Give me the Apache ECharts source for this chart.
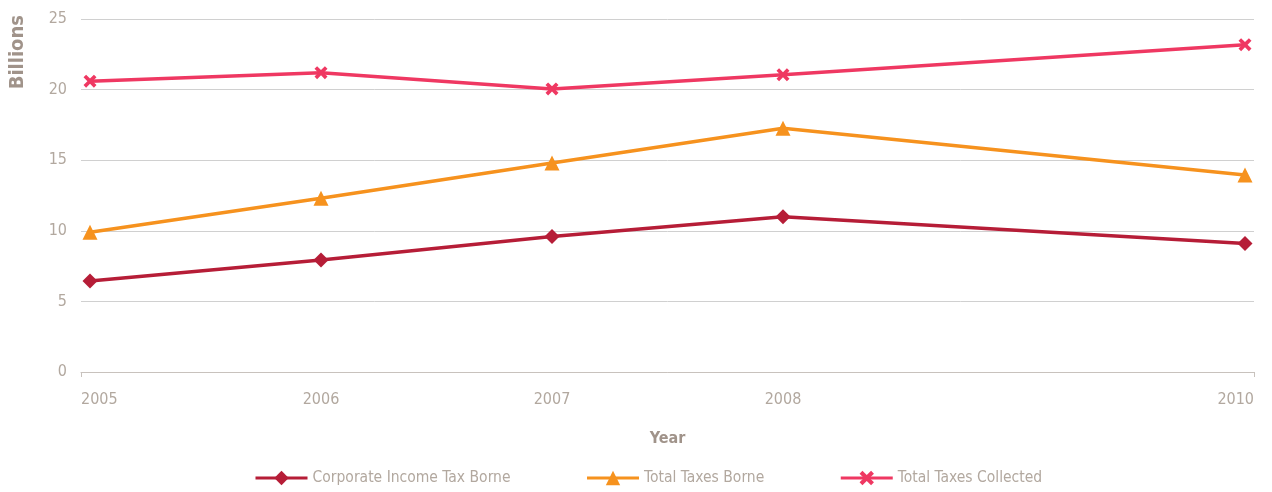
<!DOCTYPE html>
<html><head><meta charset="utf-8">
<script src="https://cdn.jsdelivr.net/npm/echarts@6/dist/echarts.min.js"></script>
<style>html,body{margin:0;padding:0;background:#fff}#c{width:1272px;height:492px}</style>
</head><body><div id="c"></div>
<script>
const years = [2005, 2006, 2007, 2008, 2010];
const corporateIncomeTaxBorne = [6.45, 7.93, 9.6, 11.0, 9.1];
const totalTaxesBorne = [9.9, 12.3, 14.8, 17.27, 13.95];
const totalTaxesCollected = [20.6, 21.2, 20.05, 21.05, 23.18];
const yTicks = [0, 5, 10, 15, 20, 25];
const seriesNames = ['Corporate Income Tax Borne', 'Total Taxes Borne', 'Total Taxes Collected'];

const FONT = "'DejaVu Sans Condensed', 'Liberation Sans Narrow', sans-serif";
const TXT = '#b2a89f';
const xMark = 'path://M0,2 L2,0 L5,3 L8,0 L10,2 L7,5 L10,8 L8,10 L5,7 L2,10 L0,8 L3,5 Z';
const pad = 0.039;

function pairs(vals){ return years.map((y,i)=>[y, vals[i]]); }

const chart = echarts.init(document.getElementById('c'), null, {renderer:'canvas'});
chart.setOption({
  animation: false,
  textStyle: {fontFamily: FONT},
  grid: {left: 81, right: 18, top: 19, bottom: 120, containLabel: false},
  xAxis: {
    type: 'value',
    min: years[0] - pad, max: years[years.length-1] + pad,
    name: 'Year', nameLocation: 'middle', nameGap: 59,
    nameTextStyle: {color: '#a0938a', fontSize: 16, fontWeight: 'bold', fontFamily: FONT},
    axisLine: {show: true, lineStyle: {color: '#c8c2bd', width: 1}},
    axisTick: {show: true, length: 5, lineStyle: {color: '#c8c2bd'}, customValues: [years[0]-pad, years[years.length-1]+pad]},
    axisLabel: {color: TXT, fontSize: 16, fontFamily: FONT, margin: 20,
      customValues: [years[0]-pad].concat(years.slice(1, -1), [years[years.length-1]+pad]),
      alignMinLabel: 'left', alignMaxLabel: 'right',
      formatter: v => String(Math.round(v))},
    splitLine: {show: false}
  },
  yAxis: {
    type: 'value', min: yTicks[0], max: yTicks[yTicks.length-1], interval: 5,
    axisLine: {show: false}, axisTick: {show: false},
    axisLabel: {color: TXT, fontSize: 16, fontFamily: FONT, margin: 14},
    splitLine: {lineStyle: {color: '#d0d0d0', width: 1}}
  },
  graphic: [{
    type: 'text', left: 8, top: 15, rotation: Math.PI/2,
    style: {text: 'Billions', fill: '#a0938a', font: "bold 20px " + FONT}
  }],
  legend: {
    top: 465, left: 249, itemWidth: 52, itemHeight: 18, itemGap: 75,
    lineStyle: {width: 3},
    textStyle: {color: TXT, fontSize: 15.5, fontFamily: FONT},
    data: seriesNames
  },
  series: [
    {name: seriesNames[0], type: 'line', data: pairs(corporateIncomeTaxBorne),
     symbol: 'diamond', symbolSize: 15, lineStyle: {width: 3.5, color: '#b61d37'},
     itemStyle: {color: '#b61d37'}},
    {name: seriesNames[1], type: 'line', data: pairs(totalTaxesBorne),
     symbol: 'triangle', symbolSize: 15, lineStyle: {width: 3.5, color: '#f6921e'},
     itemStyle: {color: '#f6921e'}},
    {name: seriesNames[2], type: 'line', data: pairs(totalTaxesCollected),
     symbol: xMark, symbolSize: 13, lineStyle: {width: 3.5, color: '#ef3862'},
     itemStyle: {color: '#ef3862'}}
  ]
});
</script></body></html>
